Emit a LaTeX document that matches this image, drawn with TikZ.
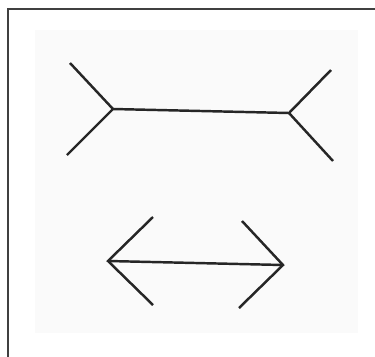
\documentclass[tikz,border=0pt]{standalone}
\usepackage{tikz}
\usetikzlibrary{calc}

\begin{document}
\begin{tikzpicture}[x=0.02cm,y=-0.02cm]

\useasboundingbox (0,0) rectangle (375,356);

% Paper and frame
\fill[black!2] (35,30) rectangle (358,333);
\coordinate (f1) at (8,360);
\coordinate (f2) at (8,9);
\coordinate (f3) at (380,9);
\draw[line width=1.2pt,black!75] (f1) -- (f2) -- (f3);

% Upper figure: fins pointing outwards
\coordinate (a1) at (113,109);
\coordinate (a2) at (289,113);
\coordinate (a1u) at (70,63);
\coordinate (a1d) at (67,155);
\coordinate (a2u) at (331,70);
\coordinate (a2d) at (333,161);

\draw[line width=1.4pt,black!85] (a1) -- (a2);
\draw[line width=1.4pt,black!85] (a1u) -- (a1) -- (a1d);
\draw[line width=1.4pt,black!85] (a2u) -- (a2) -- (a2d);

% Lower figure: fins pointing inwards
\coordinate (b1) at (108,261);
\coordinate (b2) at (283,265);
\coordinate (b1u) at (153,217);
\coordinate (b1d) at (153,305);
\coordinate (b2u) at (242,221);
\coordinate (b2d) at (239,308);

\draw[line width=1.4pt,black!85] (b1) -- (b2);
\draw[line width=1.4pt,black!85] (b1u) -- (b1) -- (b1d);
\draw[line width=1.4pt,black!85] (b2u) -- (b2) -- (b2d);

\end{tikzpicture}
\end{document}
